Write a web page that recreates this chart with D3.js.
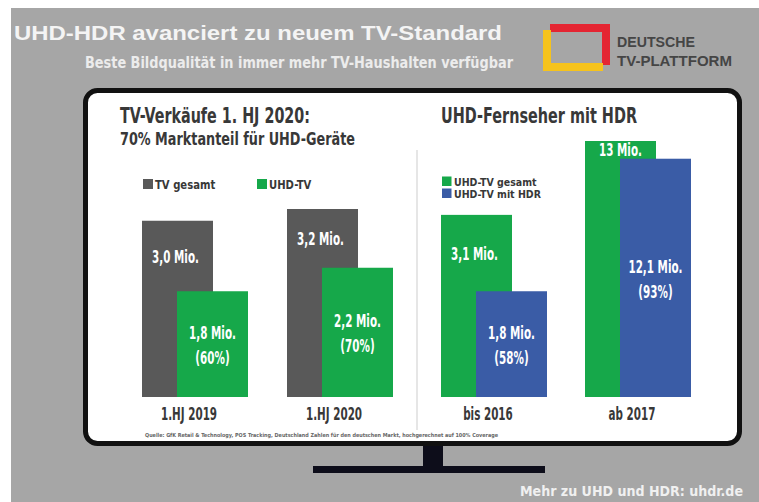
<!DOCTYPE html>
<html>
<head>
<meta charset="utf-8">
<script src="https://cdn.jsdelivr.net/npm/d3@7"></script>
<style>
  html, body { margin: 0; padding: 0; background: #fff; }
  svg { display: block; }
  .narrow { font-family: "Liberation Sans Narrow", "DejaVu Sans Condensed", sans-serif; font-weight: bold; }
</style>
</head>
<body>
<svg class="chart"></svg>
<script>
// --- data ---
var salesCats = ["1.HJ 2019", "1.HJ 2020"];
var salesSeries = ["TV gesamt", "UHD-TV"];
var tvTotal = [3.0, 3.2];
var uhdTv = [1.8, 2.2];
var uhdShare = [60, 70];

var hdrCats = ["bis 2016", "ab 2017"];
var hdrSeries = ["UHD-TV gesamt", "UHD-TV mit HDR"];
var uhdTotal = [3.1, 13];
var uhdHdr = [1.8, 12.1];
var hdrShare = [58, 93];

function show() {
    'use strict';
    var width = 759, height = 502;
    var grey = "#595959", green = "#16a84a", blue = "#3a5ca6", ink = "#383838";

    var svg = d3.select(".chart")
        .attr("width", width)
        .attr("height", height);

    var de = d3.formatLocale({decimal: ",", thousands: ".", grouping: [3], currency: ["", " €"]});
    var fmt = function(v) {
        return (v >= 10 && Number.isInteger(v)) ? de.format("d")(v) : de.format(".1f")(v);
    };

    // squeeze text horizontally to mimic a condensed DIN face
    function squeeze(sel, f) {
        sel.each(function() {
            var w = this.getComputedTextLength();
            d3.select(this).attr("textLength", w * f).attr("lengthAdjust", "spacingAndGlyphs");
        });
        return sel;
    }

    // background
    svg.append("rect").attr("width", width).attr("height", height).attr("fill", "#fff");
    svg.append("rect").attr("x", 11).attr("y", 8)
        .attr("width", width - 11).attr("height", height - 8).attr("fill", "#a6a6a6");

    function txt(x, y, s, size, fill, len) {
        var t = svg.append("text")
            .attr("x", x).attr("y", y)
            .attr("class", "narrow")
            .attr("font-size", size)
            .attr("fill", fill)
            .text(s);
        if (len) t.attr("textLength", len).attr("lengthAdjust", "spacingAndGlyphs");
        return t;
    }

    // header
    txt(14, 40, "UHD-HDR avanciert zu neuem TV-Standard", 20, "#f4f4f4", 488)
        .attr("class", null)
        .attr("font-family", "'Liberation Sans', Arial, sans-serif")
        .attr("font-weight", "bold");
    txt(85, 68, "Beste Bildqualität in immer mehr TV-Haushalten verfügbar", 15, "#ececec", 428);

    // logo
    svg.append("path").attr("d", "M550,28 H606 V65")
        .attr("fill", "none").attr("stroke", "#e42532").attr("stroke-width", 8);
    svg.append("path").attr("d", "M547,30 V67 H603")
        .attr("fill", "none").attr("stroke", "#f6c31c").attr("stroke-width", 8);
    txt(617, 47, "DEUTSCHE", 14, "#454545", 78)
        .attr("class", null).attr("font-family", "'Liberation Sans', sans-serif").attr("font-weight", "bold");
    txt(617, 66, "TV-PLATTFORM", 14, "#454545", 115)
        .attr("class", null).attr("font-family", "'Liberation Sans', sans-serif").attr("font-weight", "bold");

    // tv frame + stand
    svg.append("rect").attr("x", 423).attr("y", 444).attr("width", 20).attr("height", 23).attr("fill", "#0d0d1a");
    svg.append("rect").attr("x", 313).attr("y", 466).attr("width", 232).attr("height", 7).attr("fill", "#0d0d1a");
    svg.append("rect")
        .attr("x", 85.5).attr("y", 90.5)
        .attr("width", 654).attr("height", 353)
        .attr("rx", 12)
        .attr("fill", "#fff")
        .attr("stroke", "#111")
        .attr("stroke-width", 5);

    svg.append("line").attr("x1", 417).attr("x2", 417).attr("y1", 150).attr("y2", 430)
        .attr("stroke", "#dedede").attr("stroke-width", 1.5);

    // panel titles
    txt(120, 123, "TV-Verkäufe 1. HJ 2020:", 21, ink, 190);
    txt(120, 145, "70% Marktanteil für UHD-Geräte", 17, ink, 235);
    txt(441, 123, "UHD-Fernseher mit HDR", 21, ink, 196);

    // scales
    var barW = 71, shift = 35;
    var xLeft = d3.scalePoint().domain(salesCats).range([142, 287]);
    var xRight = d3.scalePoint().domain(hdrCats).range([441, 585]);
    var yA = d3.scaleLinear().domain([0, 3.2]).range([397, 209]);
    var yB = d3.scaleLinear().domain([0, 13]).range([397, 141]); // ab 2017 drawn compressed
    var hdrY = [yA, yB];

    // legends
    var legL = svg.append("g").selectAll("g").data(salesSeries).enter().append("g");
    legL.append("rect")
        .attr("x", function(d, i) { return [143, 257][i]; })
        .attr("y", 179).attr("width", 10).attr("height", 10)
        .attr("fill", function(d, i) { return [grey, green][i]; });
    squeeze(legL.append("text").attr("class", "narrow")
        .attr("x", function(d, i) { return [155, 269][i]; })
        .attr("y", 189).attr("font-size", 13).attr("fill", ink)
        .text(function(d) { return d; }), 0.86);

    var legR = svg.append("g").selectAll("g").data(hdrSeries).enter().append("g");
    legR.append("rect")
        .attr("x", 442).attr("y", function(d, i) { return 176.5 + i * 12; })
        .attr("width", 9.5).attr("height", 9.5)
        .attr("fill", function(d, i) { return [green, blue][i]; });
    squeeze(legR.append("text").attr("class", "narrow")
        .attr("x", 454).attr("y", function(d, i) { return 185.5 + i * 12; })
        .attr("font-size", 10.5).attr("fill", ink)
        .text(function(d) { return d; }), 1.0);

    // bars
    function group(cats, x, backVals, frontVals, shares, yFor, backCol, frontCol) {
        cats.forEach(function(c, i) {
            var y = yFor(i), x0 = x(c);
            var g = svg.append("g");
            g.append("rect")
                .attr("x", x0).attr("y", y(backVals[i]))
                .attr("width", barW).attr("height", y(0) - y(backVals[i]))
                .attr("fill", backCol);
            g.append("rect")
                .attr("x", x0 + shift).attr("y", y(frontVals[i]))
                .attr("width", barW).attr("height", y(0) - y(frontVals[i]))
                .attr("fill", frontCol);

            var lab = function(tx, ty, s, col, size) {
                return squeeze(g.append("text").attr("class", "narrow")
                    .attr("x", tx).attr("y", ty)
                    .attr("text-anchor", "middle")
                    .attr("font-size", size).attr("fill", col)
                    .text(s), 0.64);
            };

            // back label: middle of the part above the front bar
            var mid = (y(backVals[i]) + y(frontVals[i])) / 2;
            lab(x0 + barW / 2 + (backVals[i] >= 10 ? 0 : -2), mid + 6.5, fmt(backVals[i]) + " Mio.", "#fff", 18);

            // front label, two lines, centred in bar
            var fm = (y(frontVals[i]) + y(0)) / 2;
            lab(x0 + shift + barW / 2, fm - 5, fmt(frontVals[i]) + " Mio.", "#fff", 18);
            lab(x0 + shift + barW / 2, fm + 20, "(" + shares[i] + "%)", "#fff", 18);

            lab(x0 + 47, 420, c, ink, 18);
        });
    }

    group(salesCats, xLeft, tvTotal, uhdTv, uhdShare, function() { return yA; }, grey, green);
    group(hdrCats, xRight, uhdTotal, uhdHdr, hdrShare, function(i) { return hdrY[i]; }, green, blue);

    // source + footer
    txt(145, 437, "Quelle: GfK Retail & Technology, POS Tracking, Deutschland Zahlen für den deutschen Markt, hochgerechnet auf 100% Coverage", 5.5, "#666", 353);
    txt(520, 496, "Mehr zu UHD und HDR: uhdr.de", 14, "#f0f0f0", 223);
}
show();
</script>
</body>
</html>
